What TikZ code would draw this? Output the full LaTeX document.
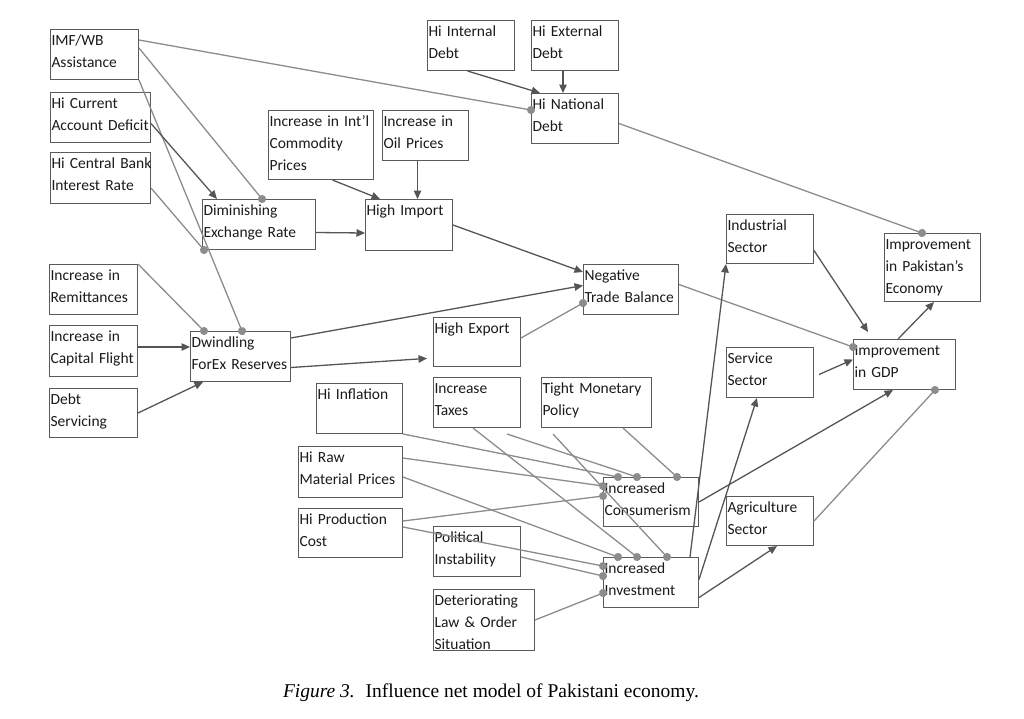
\documentclass[tikz,border=0pt]{standalone}
\usepackage{fontspec}
\setmainfont{Carlito}
\newfontfamily\capfont{Liberation Serif}
\usetikzlibrary{arrows.meta}
\definecolor{boxc}{HTML}{5A5A5A}
\definecolor{proc}{HTML}{555555}
\definecolor{inhc}{HTML}{8C8C8C}
\definecolor{txtc}{HTML}{1A1A1A}

\begin{document}
\begin{tikzpicture}[
        x=1pt,y=-1pt,
        box/.style={draw=boxc,line width=1pt,anchor=north west,inner xsep=1pt,inner ysep=0pt,
            text width=85pt,text height=16pt,text depth=34pt,align=left,text=txtc,
            font=\fontsize{15.5pt}{22pt}\selectfont},
        pro/.style={draw=proc,line width=1.3pt,-{Triangle[length=8.5pt,width=7.5pt]}},
        inh/.style={draw=inhc,line width=1.3pt,-{Circle[length=8pt]},shorten >=-4pt}
    ]
        \useasboundingbox (0,0) rectangle (1024,718);

        \node[box,text width=86pt] (imf) at (50,29) {IMF/WB\\Assistance};
        \node[box,text width=98pt] (cad) at (50,92) {Hi Current\\Account Deficit};
        \node[box,text width=98pt,text depth=35pt] (cbr) at (50,152) {\mbox{Hi Central Bank}\\Interest Rate};
        \node[box,text width=86pt] (rem) at (49,264) {Increase in\\Remittances};
        \node[box,text width=86pt,text depth=35pt] (cap) at (49,325) {Increase in\\Capital Flight};
        \node[box,text width=86pt,text depth=33pt] (dsv) at (49,388) {Debt\\Servicing};
        \node[box,text width=111pt] (der) at (202,199) {Diminishing\\Exchange Rate};
        \node[box,text width=103pt,text depth=53pt] (cmp) at (268,110) {Increase in Int’l\\Commodity\\Prices};
        \node[box,text width=84pt] (oil) at (382,110) {Increase in\\Oil Prices};
        \node[box,text depth=35pt] (imp) at (365,199) {High Import};
        \node[box] (intd) at (427,20) {Hi Internal\\Debt};
        \node[box] (exd) at (531,20) {Hi External\\Debt};
        \node[box] (nat) at (531,93) {Hi National\\Debt};
        \node[box,text width=98pt] (fxr) at (190,331) {Dwindling\\\mbox{ForEx Reserves}};
        \node[box,text depth=33pt] (exp) at (433,317) {High Export};
        \node[box,text width=93pt] (ntb) at (583,264) {Negative\\Trade Balance};
        \node[box,text depth=33pt] (inds) at (726,214) {Industrial\\Sector};
        \node[box,text width=94pt,text depth=52pt] (eco) at (884,233) {Improvement\\in Pakistan’s\\Economy};
        \node[box,text width=100pt] (gdp) at (853,339) {Improvement\\in GDP};
        \node[box] (srv) at (726,347) {Service\\Sector};
        \node[box,text depth=33pt] (agr) at (726,496) {Agriculture\\Sector};
        \node[box,text width=84pt] (inf) at (316,383) {Hi Inflation};
        \node[box] (tax) at (433,377) {Increase\\Taxes};
        \node[box,text width=108pt] (tmp) at (541,377) {Tight Monetary\\Policy};
        \node[box,text width=102pt,text depth=35pt] (raw) at (298,446) {Hi Raw\\Material Prices};
        \node[box,text width=102pt,text depth=33pt] (pcost) at (298,508) {Hi Production\\Cost};
        \node[box] (pol) at (433,526) {Political\\Instability};
        \node[box,text width=99pt,text depth=45pt] (law) at (433,589) {Deteriorating\\Law \& Order\\Situation};
        \node[box,text width=93pt,text depth=33pt] (con) at (603,477) {Increased\\Consumerism};
        \node[box,text width=93pt] (inv) at (603,557) {Increased\\Investment};

        \draw[inh] ([yshift=-11pt]imf.north east) -- ([yshift=-17pt]nat.north west);
        \draw[inh] ([yshift=-19pt]imf.north east) -- ([xshift=60pt]der.north west);
        \draw[inh] (imf.south east) -- ([xshift=52pt]fxr.north west);
        \draw[pro] ([yshift=-6pt]cad.east) -- ([xshift=15pt]der.north west);
        \draw[inh] ([yshift=-10pt]cbr.east) -- ([xshift=2pt]der.south west);
        \draw[pro] ([yshift=-8pt]der.east) -- ([yshift=-8pt]imp.west);
        \draw[pro] ([xshift=11.5pt]cmp.south) -- ([xshift=15pt]imp.north west);
        \draw[pro] ([xshift=-8pt]oil.south) -- ([xshift=-8pt]oil.south |- imp.north);
        \draw[pro] (imp.east) -- ([yshift=-8pt]ntb.north west);
        \draw[pro] ([yshift=-7pt]fxr.north east) -- ([yshift=4pt]ntb.west);
        \draw[inh] ([yshift=4pt]exp.east) -- ([yshift=12pt]ntb.south west);
        \draw[pro,shorten >=6pt] ([yshift=-11pt]fxr.east) -- ([yshift=-16pt]exp.west);
        \draw[inh] (rem.north east) -- ([xshift=14pt]fxr.north west);
        \draw[pro] ([yshift=4pt]cap.east) -- ([yshift=4pt]cap.east -| fxr.west);
        \draw[pro] (dsv.east) -- ([xshift=13pt]fxr.south west);
        \draw[pro] ([xshift=-3.5pt]intd.south) -- ([xshift=9pt]nat.north west);
        \draw[pro] ([xshift=-12pt]exd.south) -- ([xshift=-12pt]exd.south |- nat.north);
        \draw[inh] ([yshift=-5pt]nat.east) -- ([xshift=38pt]eco.north west);
        \draw[inh] ([yshift=5pt]ntb.east) -- ([yshift=-8pt]gdp.north west);
        \draw[pro] ([yshift=-11.5pt]inds.east) -- ([xshift=15pt,yshift=7pt]gdp.north west);
        \draw[pro] ([xshift=5pt,yshift=-2pt]srv.east) -- ([yshift=5pt]gdp.west);
        \draw[pro] ([xshift=45pt]gdp.north west) -- ([xshift=50pt]eco.south west);
        \draw[inh] (agr.east) -- ([xshift=82pt]gdp.south west);
        \draw[pro] (con.east) -- ([xshift=40pt]gdp.south west);
        \draw[pro] ([xshift=-9pt]inv.north east) -- (inds.south west);
        \draw[pro] ([yshift=3pt]inv.east) -- ([xshift=31pt]srv.south west);
        \draw[pro] ([yshift=-15pt]inv.east) -- ([xshift=51pt]agr.south west);

        \draw[inh] (inf.south east) -- ([xshift=15pt]con.north west);
        \draw[inh] ([xshift=-14pt,yshift=-6pt]tax.south east) -- ([xshift=34pt]con.north west);
        \draw[inh] ([xshift=40pt]tax.south west) -- ([xshift=34pt]inv.north west);
        \draw[inh] ([xshift=82pt]tmp.south west) -- ([xshift=74pt]con.north west);
        \draw[inh] ([xshift=12pt,yshift=-6pt]tmp.south west) -- ([xshift=64pt]inv.north west);
        \draw[inh] ([yshift=-12pt]raw.north east) -- ([yshift=-9pt]con.north west);
        \draw[inh] ([yshift=-31pt]raw.north east) -- ([xshift=15pt]inv.north west);
        \draw[inh] ([yshift=-13pt]pcost.north east) -- ([yshift=-19pt]con.north west);
        \draw[inh] ([yshift=-19pt]pcost.north east) -- ([yshift=-9pt]inv.north west);
        \draw[inh] ([yshift=-31pt]pol.north east) -- ([yshift=-19pt]inv.north west);
        \draw[inh] (law.east) -- ([yshift=-36pt]inv.north west);

        \node[anchor=base,font=\capfont\fontsize{19.5pt}{24pt}\selectfont] (caption) at (491,697)
            {\textit{Figure 3.}\hspace{0.55em}Influence net model of Pakistani economy.};
    \end{tikzpicture}
\end{document}
